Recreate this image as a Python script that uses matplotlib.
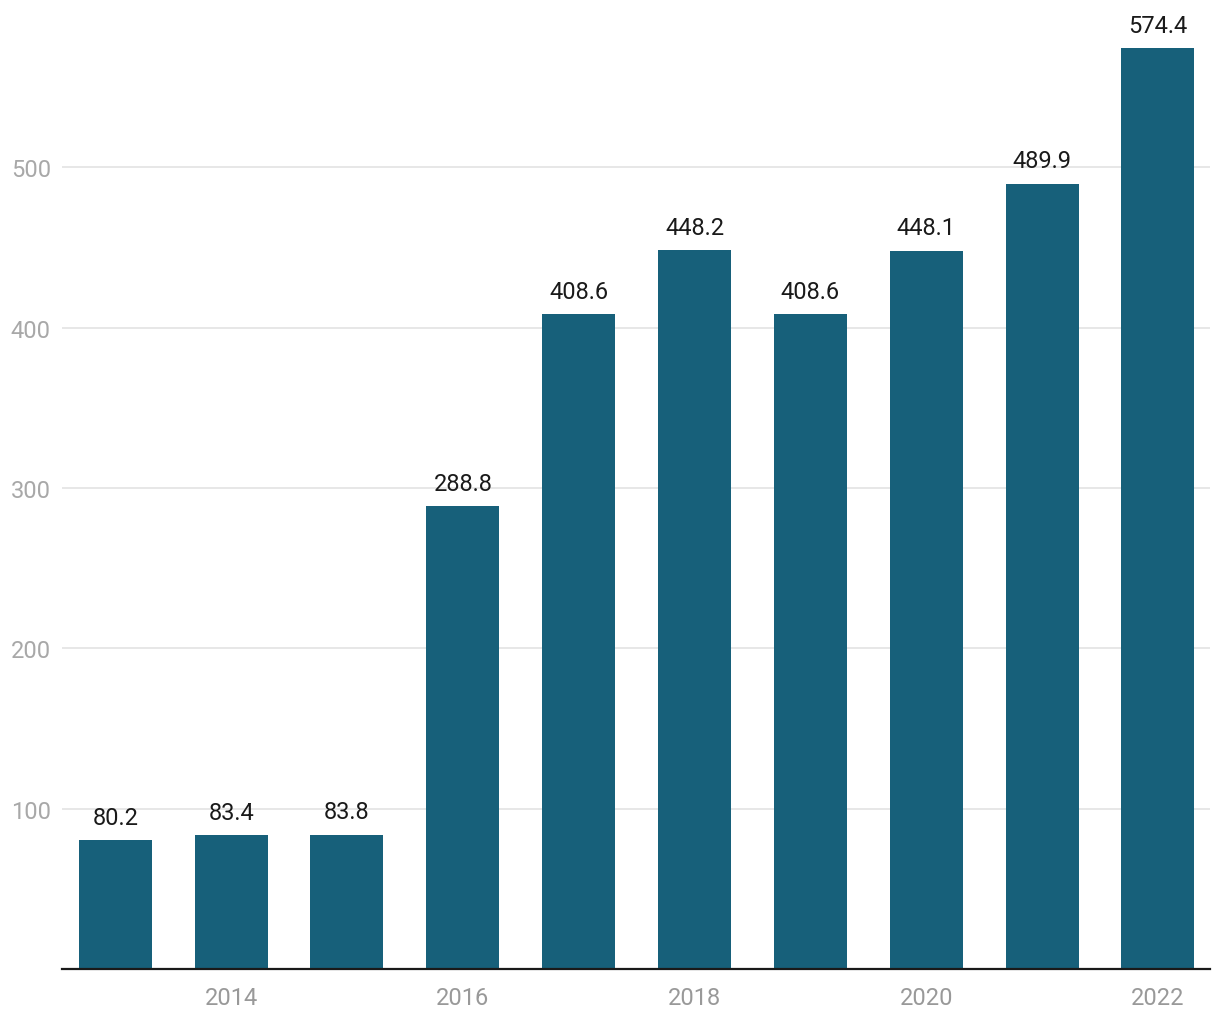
import numpy as np
import matplotlib.pyplot as plt

plt.rcParams['font.family'] = ['Roboto', 'DejaVu Sans']

years = [2013, 2014, 2015, 2016, 2017, 2018, 2019, 2020, 2021, 2022]
values = [80.2, 83.4, 83.8, 288.8, 408.6, 448.2, 408.6, 448.1, 489.9, 574.4]
yticks = [100, 200, 300, 400, 500]

fig = plt.figure(figsize=(12.2, 10.2), dpi=100)
ax = fig.add_axes([62/1220, 1-970/1020, (1210-62)/1220, (970-8)/1020])

x = np.arange(len(years))
ax.bar(x, values, width=0.63, color='#17607a', zorder=3)
for xi, v in zip(x, values):
    ax.text(xi, v + 7, f'{v:.1f}', ha='center', va='bottom', fontsize=17, color='#1a1a1a')

ax.set_xlim(-0.46, len(years) - 0.55)
ax.set_ylim(0, 600)
ax.set_yticks(yticks)
ax.set_yticklabels([str(t) for t in yticks])
ax.yaxis.grid(True, color='#e3e3e3', linewidth=1.2, zorder=0)
ax.tick_params(axis='y', length=0, pad=8, labelsize=17, labelcolor='#a8a8a8')

even = [i for i, y in enumerate(years) if y % 2 == 0]
ax.set_xticks(even)
ax.set_xticklabels([str(years[i]) for i in even])
ax.tick_params(axis='x', length=0, pad=12, labelsize=17, labelcolor='#999999')

for s in ['top', 'right', 'left']:
    ax.spines[s].set_visible(False)
ax.spines['bottom'].set_color('#1a1a1a')
ax.spines['bottom'].set_linewidth(1.6)
ax.spines['bottom'].set_zorder(4)

fig.savefig('out.png', dpi=100)
